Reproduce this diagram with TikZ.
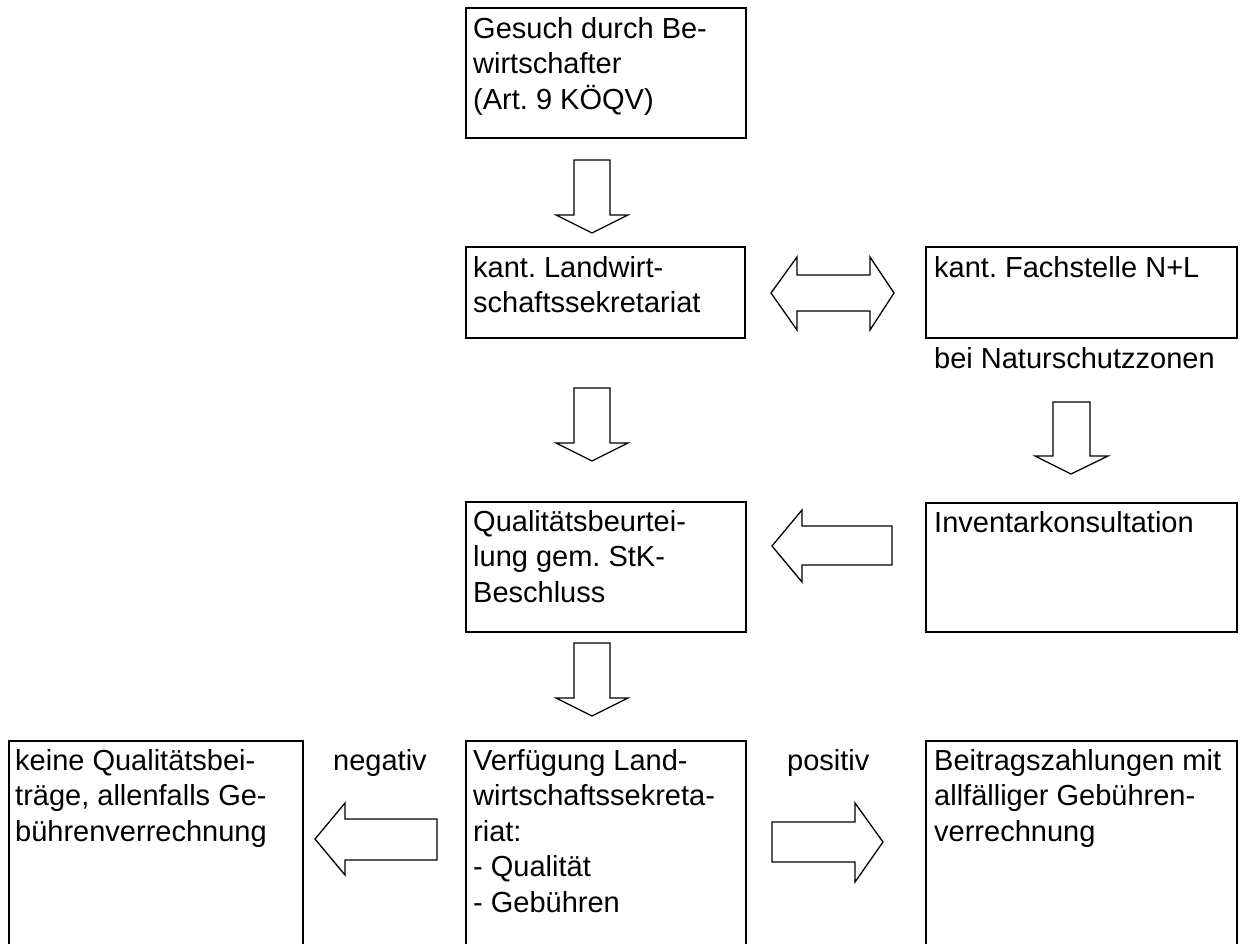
\documentclass[tikz,border=0pt]{standalone}
\usepackage{fontspec}
\setmainfont{Liberation Sans}
\frenchspacing
\begin{document}
\begin{tikzpicture}[x=1pt,y=-1pt,
  box/.style={draw=black,line width=2pt,rectangle,inner sep=0pt,anchor=north west},
  txt/.style={anchor=north west,inner sep=0pt,align=left,font=\fontsize{29}{35.5}\selectfont},
  blockarrow/.style={draw=black,line width=1.3pt,fill=white,line join=miter}]
\useasboundingbox (0,0) rectangle (1241,944);
\clip (0,0) rectangle (1241,944);
\newcommand{\fst}{\rule{0pt}{22pt}}
% boxes
\node[box,minimum width=280pt,minimum height=130pt] (A) at (465,7) {};
\node[box,minimum width=279pt,minimum height=91pt] (B) at (465,246) {};
\node[box,minimum width=311pt,minimum height=91pt] (C) at (925,246) {};
\node[box,minimum width=280pt,minimum height=130pt] (D) at (465,501) {};
\node[box,minimum width=311pt,minimum height=129pt] (E) at (925,502) {};
\node[box,minimum width=294pt,minimum height=215pt] (F) at (8,740) {};
\node[box,minimum width=280pt,minimum height=215pt] (G) at (465,740) {};
\node[box,minimum width=311pt,minimum height=215pt] (H) at (925,740) {};
% texts
\node[txt] (tA) at (473,16) {\fst Gesuch durch Be-\\wirtschafter\\(Art. 9 KÖQV)};
\node[txt] (tB) at (473,255) {\fst kant. Landwirt-\\schaftssekretariat};
\node[txt] (tC) at (934,255) {\fst kant. Fachstelle N+L};
\node[txt] (tN) at (934,346) {\fst bei Naturschutzzonen};
\node[txt] (tD) at (473,509) {\fst Qualitätsbeurtei-\\lung gem. StK-\\Beschluss};
\node[txt] (tE) at (934,510) {\fst Inventarkonsultation};
\node[txt] (tF) at (15,748) {\fst keine Qualitätsbei-\\träge, allenfalls Ge-\\bührenverrechnung};
\node[txt] (tG) at (473,748) {\fst Verfügung Land-\\wirtschaftssekreta-\\riat:\\- Qualität\\- Gebühren};
\node[txt] (tH) at (934,748) {\fst Beitragszahlungen mit\\allfälliger Gebühren-\\verrechnung};
\node[txt] (tneg) at (333,748) {\fst negativ};
\node[txt] (tpos) at (787,748) {\fst positiv};
% block arrows
\draw[blockarrow] (574,160) -- (610,160) -- (610,215) -- (628,215) -- (592,233) -- (556,215) -- (574,215) -- cycle;
\draw[blockarrow] (574,388) -- (610,388) -- (610,443) -- (628,443) -- (592,461) -- (556,443) -- (574,443) -- cycle;
\draw[blockarrow] (574,643) -- (610,643) -- (610,698) -- (628,698) -- (592,716) -- (556,698) -- (574,698) -- cycle;
\draw[blockarrow] (1053,402) -- (1090,402) -- (1090,456) -- (1108,456) -- (1071,474) -- (1035,456) -- (1053,456) -- cycle;
\draw[blockarrow] (771,293) -- (797,257) -- (797,275) -- (870,275) -- (870,257) -- (894,293) -- (870,330) -- (870,311) -- (797,311) -- (797,330) -- cycle;
\draw[blockarrow] (772,546) -- (802,510) -- (802,526) -- (892,526) -- (892,565) -- (802,565) -- (802,582) -- cycle;
\draw[blockarrow] (315,839) -- (345,803) -- (345,819) -- (437,819) -- (437,860) -- (345,860) -- (345,875) -- cycle;
\draw[blockarrow] (772,822) -- (855,822) -- (855,803) -- (883,842) -- (855,882) -- (855,862) -- (772,862) -- cycle;
\end{tikzpicture}
\end{document}
